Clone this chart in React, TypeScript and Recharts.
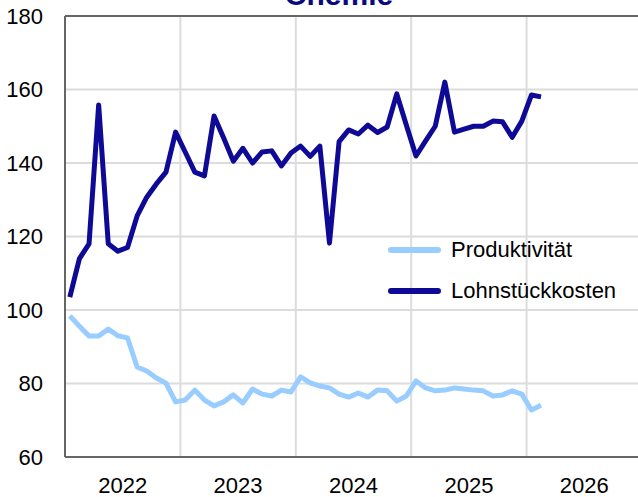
import React from "react";
import {
  LineChart,
  Line,
  XAxis,
  YAxis,
  CartesianGrid,
  ReferenceLine,
  Legend,
} from "recharts";

// Monatswerte Jan 2022 bis Feb 2026 (Index)
const produktivitaet = [
  98.4, 95.6, 92.9, 92.9, 94.8, 93, 92.4, 84.5, 83.4, 81.5, 80.1, 75,
  75.5, 78.2, 75.5, 73.9, 75, 76.9, 74.7, 78.5, 77.1, 76.6, 78.2, 77.7,
  81.8, 80.2, 79.3, 78.8, 77.1, 76.3, 77.4, 76.3, 78.2, 78, 75.2, 76.6,
  80.7, 78.8, 78, 78.2, 78.8, 78.5, 78.2, 78, 76.6, 76.9, 78, 77.1,
  72.8, 74.1,
];
const lohnstueckkosten = [
  103.5, 114, 118, 155.8, 118, 116, 117, 125.6, 130.7, 134.3, 137.5, 148.4,
  143, 137.5, 136.5, 152.8, 146.8, 140.5, 144, 140, 143, 143.3, 139.2, 142.7,
  144.6, 141.8, 144.6, 118.2, 145.8, 149, 147.9, 150.3, 148.3, 149.8, 158.8, 150.3,
  141.9, 146, 150, 162, 148.4, 149.2, 150, 150, 151.4, 151.2, 147, 151.4,
  158.5, 158,
];
const years = ["2022", "2023", "2024", "2025", "2026"];
const yTicks = [60, 80, 100, 120, 140, 160, 180];
const seriesNames = ["Produktivität", "Lohnstückkosten"];

const FONT = "'Liberation Sans', Arial, sans-serif";
const LIGHT = "#99ccff";
const DARK = "#0e0a96";

// Monat i liegt in der Mitte seines Monats (i + 0.5)
const data = produktivitaet.map((p, i) => ({
  t: i + 0.5,
  prod: p,
  lohn: lohnstueckkosten[i],
}));

const yearMid = years.map((_, i) => i * 12 + 6);
const yearBounds = years.slice(1).map((_, i) => (i + 1) * 12);

// Reihenfolge wie im Original, nicht alphabetisch
const LegendBox = ({ payload }: any) => {
  const items = seriesNames
    .map((n) => (payload || []).find((p: any) => p.value === n))
    .filter(Boolean);
  return (
    <div style={{ fontFamily: FONT, fontSize: 22, color: "#000" }}>
      {items.map((entry: any) => (
        <div
          key={entry.value}
          style={{ display: "flex", alignItems: "center", height: 41 }}
        >
          <span
            style={{
              display: "inline-block",
              width: 53,
              height: 6,
              borderRadius: 3,
              background: entry.color,
              marginRight: 10,
            }}
          />
          <span>{entry.value}</span>
        </div>
      ))}
    </div>
  );
};

export default function App() {
  return (
    <div
      style={{
        position: "absolute",
        left: 0,
        top: 0,
        width: 638,
        height: 497,
        overflow: "hidden",
        background: "#fff",
        fontFamily: FONT,
      }}
    >
      <div
        style={{
          position: "absolute",
          top: -20,
          left: 0,
          width: 678,
          textAlign: "center",
          fontSize: 30,
          lineHeight: "30px",
          fontWeight: "bold",
          color: "#0a0a80",
          zIndex: 2,
        }}
      >
        Chemie
      </div>
      <LineChart
        width={642}
        height={497}
        data={data}
        margin={{ top: 16, right: 0, left: 0, bottom: 0 }}
      >
        <CartesianGrid vertical={false} stroke="#dcdcdc" strokeWidth={2} />
        {yearBounds.map((b) => (
          <ReferenceLine key={b} x={b} stroke="#dcdcdc" strokeWidth={2} />
        ))}
        <ReferenceLine y={180} stroke="#666" strokeWidth={2} />
        <XAxis
          dataKey="t"
          type="number"
          domain={[0, 60]}
          ticks={yearMid}
          tickFormatter={(v: number) => years[Math.floor(v / 12)]}
          tickLine={false}
          tickSize={0}
          tickMargin={20}
          height={40}
          axisLine={{ stroke: "#666", strokeWidth: 2 }}
          tick={{ fill: "#000", fontSize: 22, fontFamily: FONT }}
        />
        <YAxis
          domain={[60, 180]}
          ticks={yTicks}
          width={65}
          tickLine={false}
          tickSize={0}
          tickMargin={22}
          axisLine={{ stroke: "#666", strokeWidth: 2 }}
          tick={{ fill: "#000", fontSize: 22, fontFamily: FONT }}
        />
        <Legend
          layout="vertical"
          align="center"
          verticalAlign="middle"
          content={<LegendBox />}
          wrapperStyle={{ position: "absolute", left: 388, top: 229, width: 250 }}
        />
        <Line
          dataKey="prod"
          name={seriesNames[0]}
          stroke={LIGHT}
          strokeWidth={5}
          dot={false}
          strokeLinejoin="round"
          isAnimationActive={false}
        />
        <Line
          dataKey="lohn"
          name={seriesNames[1]}
          stroke={DARK}
          strokeWidth={5}
          dot={false}
          strokeLinejoin="round"
          isAnimationActive={false}
        />
      </LineChart>
    </div>
  );
}
